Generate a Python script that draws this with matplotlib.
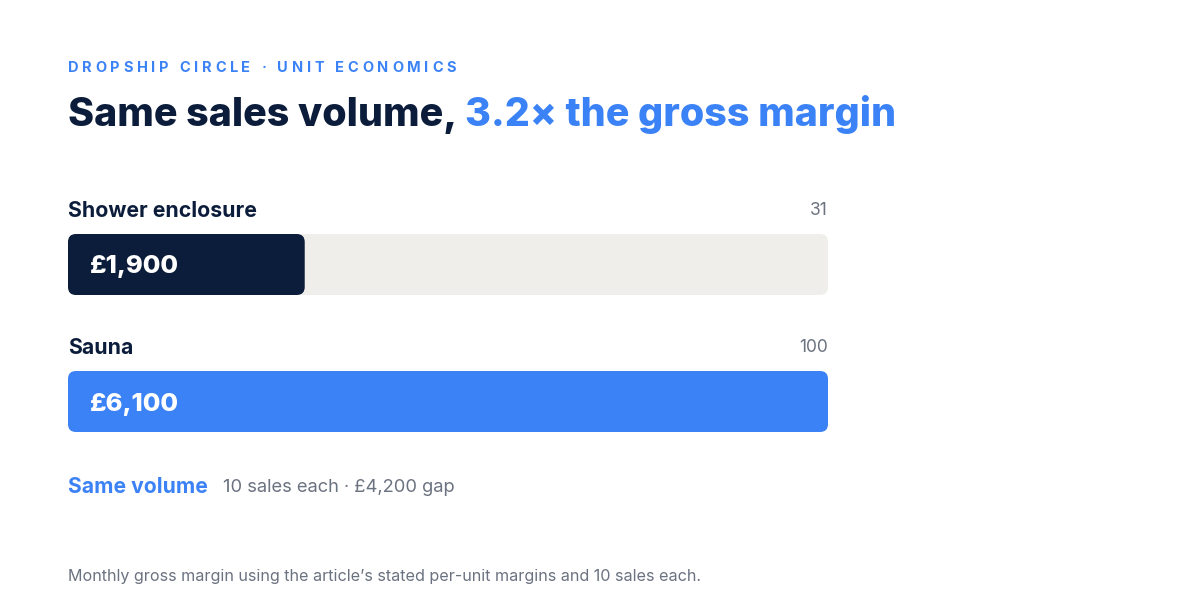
import matplotlib
matplotlib.use("Agg")
import matplotlib.pyplot as plt
from matplotlib.patches import FancyBboxPatch

plt.rcParams['font.family'] = ['Inter', 'DejaVu Sans']

# Data
categories = ["Shower enclosure", "Sauna"]
margins = [1900, 6100]          # monthly gross margin, GBP
share_labels = ["31", "100"]    # share of the larger bar
bar_colors = ["#0c1d3b", "#3b82f6"]

NAVY = "#0c1d3b"
BLUE = "#3b82f6"
GRAY = "#6b7280"
TRACK = "#efeeea"

W, H = 1200, 616
fig = plt.figure(figsize=(W / 100, H / 100), dpi=100)
fig.patch.set_facecolor("white")


def fx(x):
    return x / W


def fy(y):
    return 1 - y / H


def spaced_text(x, y, s, spacing, **kw):
    # draw text char by char to imitate letter spacing
    r = fig.canvas.get_renderer()
    for ch in s:
        t = fig.text(fx(x), fy(y), ch, va="center", ha="left", **kw)
        bb = t.get_window_extent(renderer=r)
        w = bb.width if ch != " " else kw.get("fontsize", 10) * 0.35
        x += w + spacing


# Header
spaced_text(68, 68, "DROPSHIP CIRCLE · UNIT ECONOMICS", 3.7,
            fontsize=10.5, fontweight="bold", color=BLUE)
r = fig.canvas.get_renderer()
t1 = fig.text(fx(68), fy(115), "Same sales volume, ", fontsize=28.4,
              fontweight="heavy", color=NAVY, va="center", ha="left")
bb = t1.get_window_extent(renderer=r)
fig.text(bb.x1 / W - 0.001, fy(115), "3.2× the gross margin", fontsize=28.4,
         fontweight="heavy", color=BLUE, va="center", ha="left")

# Bars axes: track from x=68 to 828, bars y 234..432
top, bot = 234, 432
ax = fig.add_axes([fx(68), fy(bot), (828 - 68) / W, (bot - top) / H])
ax.set_axis_off()
bar_h = 61 / 137
ax.set_xlim(0, 100)
ax.set_ylim(1 + bar_h / 2, -bar_h / 2)

mx = max(margins)
rx = 8 * 100 / 760
ry = 8 * (1 + bar_h) / (bot - top)
px_y = (1 + bar_h) / (bot - top)
for i, (cat, m, lab, c) in enumerate(zip(categories, margins, share_labels, bar_colors)):
    track = FancyBboxPatch((0, i - bar_h / 2), 100, bar_h,
                           boxstyle=f"round,pad=0,rounding_size={rx}",
                           mutation_aspect=ry / rx, fc=TRACK, ec="none")
    ax.add_patch(track)
    val = m / mx * 100
    bar = FancyBboxPatch((0, i - bar_h / 2), val, bar_h,
                         boxstyle=f"round,pad=0,rounding_size={rx}",
                         mutation_aspect=ry / rx, fc=c, ec="none")
    ax.add_patch(bar)
    ax.text(22 * 100 / 760, i + 2.5 * px_y, f"£{m:,}", color="white", fontsize=18.4,
            fontweight="heavy", va="center", ha="left")
    # labels above each bar
    ycat = 211 + i * 137
    fig.text(fx(68), fy(ycat), cat, fontsize=15.3, fontweight="bold",
             color=NAVY, va="center", ha="left")
    fig.text(fx(828), fy(ycat), lab, fontsize=12.5, color=GRAY,
             va="center", ha="right")

# Footer note
t2 = fig.text(fx(68), fy(487), "Same volume", fontsize=15.2, fontweight="bold",
              color=BLUE, va="center", ha="left")
bb2 = t2.get_window_extent(renderer=r)
fig.text((bb2.x1 + 15) / W, fy(487), "10 sales each · £4,200 gap", fontsize=13.2,
         color=GRAY, va="center", ha="left")

fig.text(fx(68), fy(576),
         "Monthly gross margin using the article’s stated per-unit margins and 10 sales each.",
         fontsize=11.6, color=GRAY, va="center", ha="left")

fig.savefig("out.png", dpi=100, facecolor="white")
